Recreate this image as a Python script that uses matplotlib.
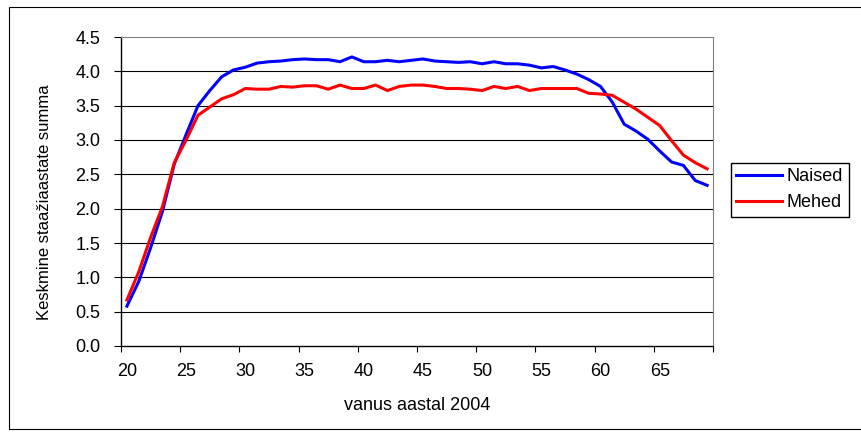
import matplotlib
matplotlib.use("Agg")
import matplotlib.pyplot as plt
from matplotlib.patches import Rectangle

plt.rcParams['font.family'] = ['Liberation Sans', 'DejaVu Sans']

##############################
# Andmed

vanus = list(range(20, 70))

naised = [0.58, 0.94, 1.43, 1.96, 2.65, 3.08, 3.50, 3.72, 3.92, 4.02,
          4.06, 4.12, 4.14, 4.15, 4.17, 4.18, 4.17, 4.17, 4.14, 4.21,
          4.14, 4.14, 4.16, 4.14, 4.16, 4.18, 4.15, 4.14, 4.13, 4.14,
          4.11, 4.14, 4.11, 4.11, 4.09, 4.05, 4.07, 4.02, 3.96, 3.88,
          3.78, 3.55, 3.23, 3.13, 3.01, 2.84, 2.68, 2.63, 2.41, 2.34]

mehed = [0.67, 1.08, 1.58, 2.03, 2.67, 3.00, 3.36, 3.48, 3.60, 3.66,
         3.75, 3.74, 3.74, 3.78, 3.77, 3.79, 3.79, 3.74, 3.80, 3.75,
         3.75, 3.80, 3.72, 3.78, 3.80, 3.80, 3.78, 3.75, 3.75, 3.74,
         3.72, 3.78, 3.75, 3.78, 3.72, 3.75, 3.75, 3.75, 3.75, 3.68,
         3.67, 3.65, 3.55, 3.45, 3.33, 3.21, 2.99, 2.78, 2.67, 2.58]

y_ticks = [0.0, 0.5, 1.0, 1.5, 2.0, 2.5, 3.0, 3.5, 4.0, 4.5]
x_labels = [20, 25, 30, 35, 40, 45, 50, 55, 60, 65]

##############################
# Joonis

fig = plt.figure(figsize=(8.61, 4.32), dpi=100)
fig.patches.append(Rectangle((9/861, 3/432), 1.0, 422/432, transform=fig.transFigure,
                             fill=False, edgecolor='black', linewidth=0.8))

ax = fig.add_axes([121/861, 1-346/432, 592/861, 309/432])

pos = [v - vanus[0] for v in vanus]
ax.plot(pos, naised, color='#0000FF', linewidth=2.2, label='Naised')
ax.plot(pos, mehed, color='#FF0000', linewidth=2.2, label='Mehed')

ax.set_xlim(-0.5, len(vanus) - 0.5)
ax.set_ylim(0, 4.5)

ax.set_yticks(y_ticks)
ax.set_yticklabels(['%.1f' % v for v in y_ticks], fontsize=13)
for v in y_ticks[1:-1]:
    ax.axhline(v, color='black', linewidth=0.8, zorder=0)

# kategooriate piirid ja sildid keskel
ax.set_xticks([i - 0.5 for i in range(0, len(vanus) + 1, 5)])
ax.set_xticklabels([])
ax.set_xticks([v - vanus[0] for v in x_labels], minor=True)
ax.set_xticklabels([str(v) for v in x_labels], minor=True, fontsize=13)
ax.tick_params(axis='x', which='minor', length=0, pad=12)
ax.tick_params(axis='x', which='major', length=4, direction='out', width=0.8)
ax.tick_params(axis='y', length=5, direction='out', width=0.8, pad=10)

ax.spines['top'].set_color('#808080')
ax.spines['right'].set_color('#808080')
ax.spines['left'].set_linewidth(1.0)
ax.spines['bottom'].set_linewidth(1.0)

ax.set_xlabel('vanus aastal 2004', fontsize=13)
ax.xaxis.set_label_coords(0.5, -(397 - 346) / 309)
ax.set_ylabel('Keskmine staažiaastate summa', fontsize=12)
ax.yaxis.set_label_coords((52 - 121) / 592, 1 - (202 - 37) / 309)

fig.legend(loc='upper left', bbox_to_anchor=(731/861, 1-163/432), fontsize=13,
           frameon=True, fancybox=False, edgecolor='black', framealpha=1,
           handlelength=2.5, borderpad=0.3, labelspacing=0.5, handletextpad=0.3,
           borderaxespad=0)

fig.savefig('out.png', dpi=100)
